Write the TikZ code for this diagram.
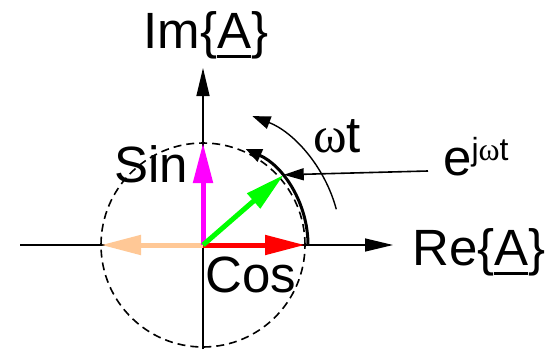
\documentclass[tikz,border=0pt]{standalone}
\usepackage{fontspec}
\setmainfont{Liberation Sans}
\newfontfamily\grk{Liberation Serif}
\usetikzlibrary{arrows.meta,calc}
\newcommand\myul[1]{\setbox0=\hbox{#1}\rlap{\rule[-10pt]{\wd0}{3.5pt}}#1}
\begin{document}
\begin{tikzpicture}[x=1pt,y=1pt,
  axis/.style={line width=1.4pt,-{Triangle[length=28pt,width=13pt]}},
  vec/.style={line width=5pt,-{Triangle[length=40pt,width=19pt]}},
  lbl/.style={inner sep=0pt,font=\fontsize{51}{51}\selectfont},
  arcthick/.style={line width=3pt,-{Triangle[length=16pt,width=13pt]}},
  arcthin/.style={line width=1.4pt,-{Triangle[length=18pt,width=13pt]}},
  pointer/.style={line width=1.6pt,-{Triangle[length=20pt,width=12pt]}}]
\useasboundingbox (0,0) rectangle (557,349);
\definecolor{peach}{RGB}{255,200,150}
\definecolor{vmag}{RGB}{255,0,255}
\definecolor{vgreen}{RGB}{0,255,0}
\definecolor{vred}{RGB}{255,0,0}
\coordinate (O) at (203,104);
\coordinate (L) at (20,104);
\coordinate (R) at (393,104);
\coordinate (B) at (203,0);
\coordinate (T) at (203,281);
\coordinate (G) at ($(O)+(41:107)$);
% axes
\draw[axis] (L) -- (R);
\draw[axis] (B) -- (T);
% dashed circle
\draw[line width=1.6pt,dash pattern=on 8pt off 5pt] (O) circle[radius=102];
% vectors
\coordinate (Rv) at (305,104);
\coordinate (Sv) at (203,206);
\coordinate (Pv) at (101,104);
\draw[vec,peach] (O) -- (Pv);
\draw[vec,vred] (O) -- (Rv);
\draw[vec,vmag] (O) -- (Sv);
\draw[vec,vgreen] (O) -- (G);
% arcs
\draw[arcthick] ($(O)+(0:105)$) arc[start angle=0,end angle=66,radius=105];
\draw[arcthin] ($(O)+(15:138)$) arc[start angle=15,end angle=69,radius=138];
% labels
\node[lbl,anchor=base] (im) at (206,301) {Im\{\myul{A}\}};
\node[lbl,anchor=base west] (re) at (412,84) {Re\{\myul{A}\}};
\node[lbl,anchor=base west] (sin) at (114,167) {Sin};
\node[lbl,anchor=base west] (cos) at (205,57) {Cos};
\node[lbl,anchor=base west] (wt) at (313,197) {{\grk ω}t};
\node[lbl,anchor=base west] (ej) at (443,174) {e\raisebox{15pt}{\fontsize{32}{32}\selectfont j{\grk ω}t}};
\coordinate (E) at (428,178);
\draw[pointer] (E) -- (G);
\end{tikzpicture}
\end{document}
